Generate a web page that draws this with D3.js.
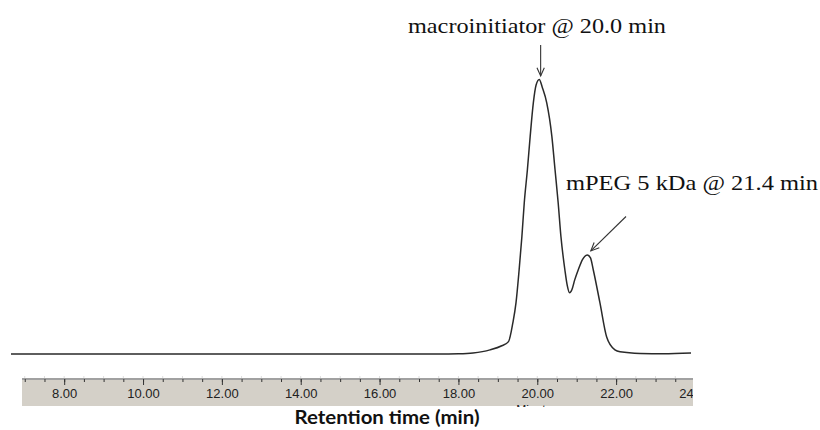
<!DOCTYPE html>
<html><head><meta charset="utf-8">
<script src="https://cdn.jsdelivr.net/npm/d3@7/dist/d3.min.js"></script>
<style>body{margin:0;background:#fff}svg{display:block}</style>
</head><body>
<svg id="chart" width="820" height="430"></svg>
<script>
// ---- data ----
const retentionTime = [6.65, 12, 17.5, 18.0, 18.37, 18.8, 19.1, 19.27, 19.38, 19.46, 19.54, 19.61, 19.67, 19.75, 19.82, 19.90, 19.97, 20.05, 20.13, 20.24, 20.37, 20.45, 20.53, 20.60, 20.70, 20.76, 20.82, 20.88, 20.95, 21.04, 21.15, 21.27, 21.35, 21.42, 21.59, 21.76, 21.97, 22.10, 22.61, 23.2, 23.9];
const signal =        [0,    0,  0,    0.1,  0.4,   1.5,  3.0,  4.5,   11.3,  18.6,  30.7,  42.8,  55.1,  67.2,  79.3,  91.5,  98,    100,   97,    91.5,  79.3,  67.2,  55.1,  42.8,  30.7,  25,    22.3,  23.5,  27,    30.7,  34.5,  36.1,  35,    30.7,  18.6,  6.2,   1.5,   0.8,   0.2,   0.1,  0.4];
const majorTicks = [8, 10, 12, 14, 16, 18, 20, 22, 24];
const minorTicks = d3.range(7, 24.01, 0.5);
const annotations = [
  {text: "macroinitiator @ 20.0 min", t: 20.05, s: 100},
  {text: "mPEG 5 kDa @ 21.4 min", t: 21.27, s: 36.1}
];
const axisTitle = "Retention time (min)";

// ---- layout ----
const svg = d3.select("#chart");
const x = d3.scaleLinear().domain([6.93, 23.95]).range([22, 693]);
const y = d3.scaleLinear().domain([0, 100]).range([354, 79.5]);
const axisY = 379;

// band
svg.append("rect").attr("x", x.range()[0]).attr("y", axisY + 1)
  .attr("width", x.range()[1] - x.range()[0]).attr("height", 26)
  .attr("fill", "#d4d0c8");

svg.append("clipPath").attr("id", "bandclip").append("rect")
  .attr("x", x.range()[0]).attr("y", 360).attr("width", x.range()[1] - x.range()[0]).attr("height", 47);

const axG = svg.append("g").attr("clip-path", "url(#bandclip)");

// faint ghost ticks above the line
axG.append("g").selectAll("line").data(minorTicks).join("line")
  .attr("x1", d => x(d)).attr("x2", d => x(d))
  .attr("y1", axisY - 3).attr("y2", axisY - 1)
  .attr("stroke", "#ddd").attr("stroke-width", 1);

// minor ticks
const minorAxis = d3.axisBottom(x).tickValues(minorTicks).tickSize(3).tickFormat("");
const gMinor = axG.append("g").attr("transform", `translate(0,${axisY})`).call(minorAxis);
gMinor.select(".domain").remove();
gMinor.selectAll("line").attr("stroke", "#333");

// major ticks
const majorAxis = d3.axisBottom(x).tickValues(majorTicks).tickSize(6).tickPadding(5)
  .tickFormat(d3.format(".2f"));
const gMajor = axG.append("g").attr("transform", `translate(0,${axisY})`).call(majorAxis);
gMajor.select(".domain").remove();
gMajor.selectAll("line").attr("stroke", "#333");
gMajor.selectAll("text").attr("font-family", "Liberation Sans, Arial, sans-serif")
  .attr("font-size", 13).attr("fill", "#222").attr("dy", "0.62em");

// cut-off "Minutes" label under the band
axG.append("text").attr("x", x(20.0)).attr("y", 414).attr("text-anchor", "middle")
  .attr("font-family", "Liberation Sans, Arial, sans-serif").attr("font-size", 12)
  .attr("fill", "#222").text("Minutes");

// axis line
svg.append("line").attr("x1", x.range()[0]).attr("x2", x.range()[1])
  .attr("y1", axisY).attr("y2", axisY).attr("stroke", "#444").attr("stroke-width", 1.2);

// axis title
svg.append("text").attr("x", 387).attr("y", 424).attr("text-anchor", "middle")
  .attr("font-family", "Lato, 'Open Sans', sans-serif").attr("font-weight", "bold")
  .attr("font-size", 18).attr("fill", "#111")
  .attr("textLength", 185).attr("lengthAdjust", "spacingAndGlyphs")
  .text(axisTitle);

// trace
const pts = retentionTime.map((t, i) => [t, signal[i]]);
svg.append("path").datum(pts)
  .attr("d", d3.line().x(d => x(d[0])).y(d => y(d[1])).curve(d3.curveMonotoneX))
  .attr("fill", "none").attr("stroke", "#2a2a2a").attr("stroke-width", 1.5);

// annotations
function arrow(x1, y1, x2, y2) {
  const g = svg.append("g").attr("stroke", "#333").attr("stroke-width", 1.1).attr("fill", "none");
  g.append("line").attr("x1", x1).attr("y1", y1).attr("x2", x2).attr("y2", y2);
  const a = Math.atan2(y2 - y1, x2 - x1), L = 9, w = 0.42;
  g.append("path").attr("d",
    `M${x2 - L * Math.cos(a - w)},${y2 - L * Math.sin(a - w)}L${x2},${y2}L${x2 - L * Math.cos(a + w)},${y2 - L * Math.sin(a + w)}`);
}
const a1 = annotations[0], a2 = annotations[1];
svg.append("text").attr("x", 408).attr("y", 32.5)
  .attr("font-family", "Liberation Serif, 'Times New Roman', serif").attr("font-size", 22)
  .attr("fill", "#111").attr("textLength", 258).attr("lengthAdjust", "spacingAndGlyphs")
  .text(a1.text);
arrow(x(a1.t) + 1.4, 45, x(a1.t) + 1.4, y(a1.s) - 3.5);

svg.append("text").attr("x", 566).attr("y", 189.5)
  .attr("font-family", "Liberation Serif, 'Times New Roman', serif").attr("font-size", 22)
  .attr("fill", "#111").attr("textLength", 252).attr("lengthAdjust", "spacingAndGlyphs")
  .text(a2.text);
arrow(626, 216.5, x(a2.t) + 3.5, y(a2.s) - 4);
</script>
</body></html>
